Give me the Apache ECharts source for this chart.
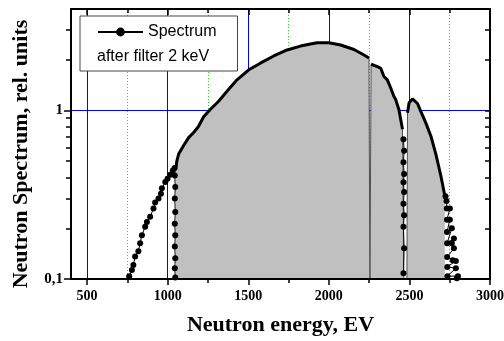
<!DOCTYPE html>
<html>
<head>
<meta charset="utf-8">
<script src="https://cdn.jsdelivr.net/npm/echarts@6/dist/echarts.min.js"></script>
<style>
  html, body { margin: 0; padding: 0; background: #fff; }
  #chart { width: 504px; height: 341px; }
</style>
</head>
<body>
<div id="chart"></div>
<script>
// tick positions
const majorEnergy = [500, 1000, 1500, 2000, 2500, 3000];
const minorEnergy = [750, 1250, 1750, 2250, 2750];
const majorSpectrum = [0.1, 1];
const minorSpectrum = [0.2, 0.3, 0.4, 0.5, 0.6, 0.7, 0.8, 0.9, 2, 3];
const allSpectrumTicks = [0.2, 0.3, 0.4, 0.5, 0.6, 0.7, 0.8, 0.9, 1, 2, 3];

// low energy tail (single points)
const energyTailLeft = [761, 778, 787, 798, 818, 829, 840, 860, 871, 891, 912, 922, 943, 958, 964, 985, 999, 1016, 1032, 1043];
const spectrumTailLeft = [0.104, 0.113, 0.121, 0.136, 0.146, 0.163, 0.182, 0.204, 0.218, 0.234, 0.262, 0.284, 0.300, 0.321, 0.346, 0.376, 0.393, 0.415, 0.440, 0.455];
const energyDropLeft = [1044, 1047, 1044, 1047, 1044, 1047, 1044, 1047, 1044, 1047];
const spectrumDropLeft = [0.411, 0.351, 0.30, 0.25, 0.213, 0.182, 0.156, 0.133, 0.116, 0.102];

// main (filled) part of the spectrum
const energyMain = [1052, 1057, 1068, 1098, 1130, 1161, 1190, 1223, 1264, 1316, 1368, 1430, 1503, 1575, 1658, 1741, 1824, 1886, 1928, 2000, 2073, 2156, 2218, 2249, 2255, 2262, 2270, 2301, 2322, 2342, 2363, 2384, 2404, 2415, 2435, 2446, 2457, 2466, 2484, 2488, 2498, 2519, 2550, 2570, 2601, 2633, 2664, 2695, 2715, 2720];
const spectrumMain = [0.46, 0.503, 0.551, 0.617, 0.69, 0.74, 0.80, 0.918, 1.014, 1.134, 1.299, 1.52, 1.743, 1.908, 2.106, 2.285, 2.41, 2.478, 2.52, 2.52, 2.445, 2.3, 2.134, 2.05, 0.08, 1.88, 1.91, 1.82, 1.78, 1.59, 1.52, 1.36, 1.21, 1.16, 1.01, 0.885, 0.773, 0.08, 0.08, 0.969, 1.11, 1.17, 1.10, 0.99, 0.847, 0.706, 0.551, 0.41, 0.328, 0.31];

// points in the gap near 2.47 keV
const energyDropMid = [2463, 2467, 2463, 2467, 2463, 2467, 2463, 2467, 2463, 2467, 2463];
const spectrumDropMid = [0.675, 0.576, 0.493, 0.42, 0.375, 0.328, 0.28, 0.239, 0.204, 0.152, 0.108];

// high energy tail
const energyTailRight = [2724, 2730, 2732, 2751, 2733, 2751, 2733, 2763, 2734, 2776, 2763, 2776, 2734, 2769, 2788, 2735, 2788, 2736, 2801, 2794];
const spectrumTailRight = [0.31, 0.29, 0.262, 0.262, 0.225, 0.225, 0.19, 0.2, 0.163, 0.174, 0.163, 0.152, 0.135, 0.129, 0.128, 0.118, 0.116, 0.104, 0.104, 0.101];

const pairs = (xs, ys) => xs.map((x, i) => [x, ys[i]]);

const dotData = [].concat(
  pairs(energyTailLeft, spectrumTailLeft),
  pairs(energyDropLeft, spectrumDropLeft),
  [[1050, '-']],
  pairs(energyDropMid, spectrumDropMid),
  [[2600, '-']],
  pairs(energyTailRight, spectrumTailRight)
);
const fillData = pairs(energyMain, spectrumMain);
const curveData = energyMain.map((x, i) => [x, spectrumMain[i] < 0.1 ? '-' : spectrumMain[i]]);

const serifBold = { fontFamily: 'Liberation Serif', fontWeight: 'bold', color: '#000' };

const xBase = { type: 'value', min: 400, max: 3000, gridIndex: 0 };
const yBase = { type: 'log', logBase: 10, min: 0.1, max: 4, gridIndex: 0 };
const off = () => ({ show: false });

const chart = echarts.init(document.getElementById('chart'), null, { renderer: 'canvas' });
chart.setOption({
  animation: false,
  backgroundColor: '#fff',
  grid: { left: 71, right: 14, top: 9, bottom: 60 },
  legend: {
    data: ['Spectrum'],
    left: 80,
    top: 16,
    orient: 'vertical',
    padding: [8, 21, 31, 17],
    itemWidth: 45,
    itemHeight: 11,
    itemGap: 5,
    backgroundColor: '#fff',
    borderColor: '#444',
    borderWidth: 1,
    borderRadius: 0,
    textStyle: { fontFamily: 'Liberation Sans', fontSize: 16, color: '#000' },
    z: 10
  },
  graphic: [{
    id: 'legend-line2',
    type: 'text',
    left: 97,
    top: 49,
    z: 100,
    style: { text: 'after filter 2 keV', font: '16px "Liberation Sans"', fill: '#000' }
  }],
  xAxis: [
    Object.assign({}, xBase, {
      position: 'bottom', z: 5,
      name: 'Neutron energy, EV', nameLocation: 'middle', nameGap: 35,
      nameTextStyle: Object.assign({ fontSize: 22 }, serifBold),
      axisLine: { show: true, lineStyle: { color: '#000', width: 2 } },
      axisTick: { show: true, inside: false, length: 6, customValues: majorEnergy, lineStyle: { color: '#000', width: 1.5 } },
      axisLabel: off(),
      splitLine: off()
    }),
    Object.assign({}, xBase, {
      position: 'bottom', z: 0,
      axisLine: off(),
      axisTick: { show: true, inside: false, length: 4, customValues: minorEnergy, lineStyle: { color: '#000', width: 1.5 } },
      axisLabel: off(),
      splitLine: { show: true, lineStyle: { color: '#22dd22', width: 1, type: [1, 2] } }
    }),
    Object.assign({}, xBase, {
      position: 'bottom', z: 0,
      axisLine: off(),
      axisTick: { show: false, customValues: majorEnergy },
      axisLabel: off(),
      splitLine: { show: true, lineStyle: { color: '#0000ff', width: 1 } }
    }),
    Object.assign({}, xBase, {
      position: 'top', z: 5,
      axisLine: { show: true, lineStyle: { color: '#000', width: 2 } },
      axisTick: { show: true, inside: true, length: 6, customValues: majorEnergy, lineStyle: { color: '#000', width: 1.5 } },
      axisLabel: off(),
      splitLine: off()
    }),
    Object.assign({}, xBase, {
      position: 'top', z: 5,
      axisLine: off(),
      axisTick: { show: true, inside: true, length: 4, customValues: minorEnergy, lineStyle: { color: '#000', width: 1.5 } },
      axisLabel: off(),
      splitLine: off()
    })
  ],
  yAxis: [
    Object.assign({}, yBase, {
      position: 'left', z: 5,
      name: 'Neutron Spectrum, rel. units', nameLocation: 'middle', nameGap: 39,
      nameTextStyle: Object.assign({ fontSize: 22, padding: [0, 20, 0, 0] }, serifBold),
      axisLine: { show: true, lineStyle: { color: '#000', width: 2 } },
      axisTick: { show: true, inside: false, length: 7, customValues: majorSpectrum, lineStyle: { color: '#000', width: 1.5 } },
      axisLabel: Object.assign({
        show: true, margin: 8, fontSize: 15, customValues: majorSpectrum,
        formatter: v => (v < 0.5 ? '0,1' : '1')
      }, serifBold),
      splitLine: off()
    }),
    Object.assign({}, yBase, {
      position: 'left', z: 5,
      axisLine: off(),
      axisTick: { show: true, inside: false, length: 5, customValues: minorSpectrum, lineStyle: { color: '#000', width: 1.5 } },
      axisLabel: off(),
      splitLine: off()
    }),
    Object.assign({}, yBase, {
      position: 'left', z: 0,
      axisLine: off(),
      axisTick: { show: false, customValues: [1] },
      axisLabel: off(),
      splitLine: { show: true, lineStyle: { color: '#0000ff', width: 1 } }
    }),
    Object.assign({}, yBase, {
      position: 'right', z: 5,
      axisLine: { show: true, lineStyle: { color: '#000', width: 2 } },
      axisTick: { show: true, inside: true, length: 5, customValues: allSpectrumTicks, lineStyle: { color: '#000', width: 1.5 } },
      axisLabel: off(),
      splitLine: off()
    })
  ],
  series: [
    {
      name: 'fill',
      type: 'line',
      xAxisIndex: 0,
      yAxisIndex: 0,
      z: 2,
      symbol: 'none',
      lineStyle: { color: '#505050', width: 1 },
      areaStyle: { color: '#c0c0c0', opacity: 1, origin: 'start' },
      data: fillData
    },
    {
      name: 'curve',
      type: 'line',
      xAxisIndex: 0,
      yAxisIndex: 0,
      z: 3,
      symbol: 'none',
      connectNulls: false,
      lineStyle: { color: '#000', width: 3 },
      data: curveData
    },
    {
      name: 'Spectrum',
      type: 'line',
      xAxisIndex: 0,
      yAxisIndex: 0,
      z: 4,
      symbol: 'circle',
      symbolSize: 6,
      connectNulls: false,
      itemStyle: { color: '#000' },
      lineStyle: { color: '#000', width: 1 },
      data: dotData
    }
  ]
});

// energy tick labels placed through the axis scale (plain numbers, no thousands separator)
const axisY = chart.convertToPixel({ yAxisIndex: 0 }, 0.1);
chart.setOption({
  graphic: majorEnergy.map(v => ({
    id: 'xlabel-' + v,
    type: 'text',
    x: chart.convertToPixel({ xAxisIndex: 0 }, v),
    y: axisY + 10,
    z: 50,
    style: {
      text: String(v),
      align: 'center',
      verticalAlign: 'top',
      font: 'bold 14px "Liberation Serif"',
      fill: '#000'
    }
  }))
});
</script>
</body>
</html>
